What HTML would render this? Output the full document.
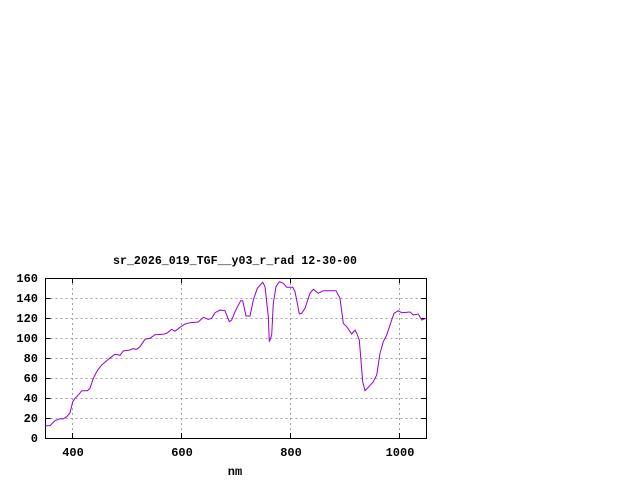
<!DOCTYPE html>
<html><head><meta charset="utf-8"><style>
html,body{margin:0;padding:0;background:#fff;}
svg{display:block;}
text{font-family:"Liberation Mono","DejaVu Sans Mono",monospace;font-weight:bold;font-size:12px;fill:#000;}
</style></head><body>
<svg width="640" height="480" xmlns="http://www.w3.org/2000/svg">
<g stroke="#a0a0a0" stroke-width="1" stroke-dasharray="2,3" fill="none">
<path d="M45.5 418.5H426M45.5 398.5H426M45.5 378.5H426M45.5 358.5H426M45.5 338.5H426M45.5 318.5H426M45.5 298.5H426"/>
<path d="M72.5 278V438M181.5 278V438M290.5 278V438M399.5 278V438"/>
</g>
<g stroke="#000" stroke-width="1">
<path d="M45.5 418.5h5M45.5 398.5h5M45.5 378.5h5M45.5 358.5h5M45.5 338.5h5M45.5 318.5h5M45.5 298.5h5M426 418.5h-5M426 398.5h-5M426 378.5h-5M426 358.5h-5M426 338.5h-5M426 318.5h-5M426 298.5h-5"/>
<path d="M72.5 438v-5M181.5 438v-5M290.5 438v-5M399.5 438v-5M72.5 278v5M181.5 278v5M290.5 278v5M399.5 278v5"/>
<rect x="45.5" y="278.5" width="381" height="160" fill="none"/>
</g>
<polyline fill="none" stroke="#9400d3" stroke-width="1" points="45,425.7 50,425.7 55,420.7 60,418.7 63,419 66.7,416.7 70,413 72.7,401.7 75,398.3 78.3,395 81.7,390.7 87.3,390.7 90,388.3 93.3,378.3 97.3,370.7 101.7,365 106.7,360.7 111.7,356.7 115,354.3 120,355.3 123.3,351 130,350 132.7,348.7 136.7,349.3 140,346.7 145,339.3 150,338.3 155,334.7 163.3,334.3 166.7,333.3 171.7,329.3 175,331.3 180,327.3 185,324 190,322.7 198.3,322 203.3,317.3 208.3,319.3 211.7,318.3 215,312.7 220,310 225,310.7 229.3,321.7 231.7,320 235,311.7 240.7,300.7 242.7,300.7 246,316 250,316 253.3,300 257.3,288.3 262.7,282.3 265,286.7 268.3,316.7 269.3,341.7 271.7,335 273.3,303.3 276,286.7 279.3,281.7 283.3,283.3 286.7,287.3 292.7,287.3 295,291.7 297.3,303.3 299.3,314 301.7,313.3 305,308.3 310,293.3 313.3,289.3 318.3,293.3 323.3,290.7 330,290.7 336,290.7 340,298.3 343.3,323.3 346.7,326.7 351.7,334 355,330 356.7,333.3 359.3,340 362.7,381.7 365,390.7 368.3,387.3 373.3,381.7 376.7,375 380,353.3 383.3,341.7 386.7,335 391.7,320 394,313.3 398.3,310.7 401.7,312.7 410,312 413.3,315 418.3,314 421.7,320 426,318.3"/>
<g text-anchor="end">
<text x="38" y="442">0</text><text x="38" y="422">20</text><text x="38" y="402">40</text><text x="38" y="382">60</text><text x="38" y="362">80</text><text x="38" y="342">100</text><text x="38" y="322">120</text><text x="38" y="302">140</text><text x="38" y="282">160</text>
</g>
<g text-anchor="middle">
<text x="73" y="456">400</text><text x="182" y="456">600</text><text x="291" y="456">800</text><text x="400" y="456">1000</text>
<text x="235" y="475">nm</text>
</g>
<text x="113" y="264" textLength="244" lengthAdjust="spacingAndGlyphs">sr_2026_019_TGF__y03_r_rad 12-30-00</text>
</svg>
</body></html>
